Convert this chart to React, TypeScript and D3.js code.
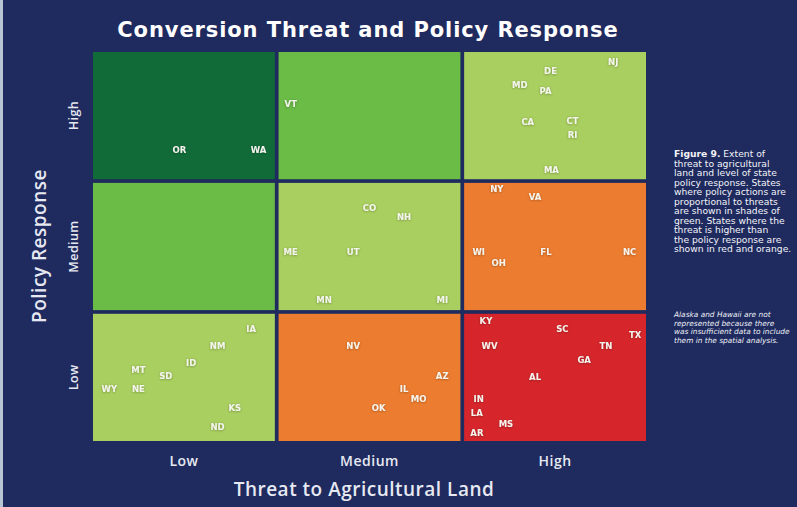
import React, { useEffect } from "react";
import * as d3 from "d3";

const threatLevels = ["Low", "Medium", "High"];
const policyLevels = ["High", "Medium", "Low"];

// which shade each threat/policy cell gets
const cellShades = [
  { threat: "Low", policy: "High", shade: "darkGreen" },
  { threat: "Medium", policy: "High", shade: "green" },
  { threat: "High", policy: "High", shade: "lightGreen" },
  { threat: "Low", policy: "Medium", shade: "green" },
  { threat: "Medium", policy: "Medium", shade: "lightGreen" },
  { threat: "High", policy: "Medium", shade: "orange" },
  { threat: "Low", policy: "Low", shade: "lightGreen" },
  { threat: "Medium", policy: "Low", shade: "orange" },
  { threat: "High", policy: "Low", shade: "red" },
];

// states, with where they sit inside their cell (0..1 across, 0..1 down)
const states = [
  { code: "OR", threat: "Low", policy: "High", fx: 0.475, fy: 0.77 },
  { code: "WA", threat: "Low", policy: "High", fx: 0.91, fy: 0.77 },
  { code: "VT", threat: "Medium", policy: "High", fx: 0.067, fy: 0.41 },
  { code: "NJ", threat: "High", policy: "High", fx: 0.82, fy: 0.08 },
  { code: "DE", threat: "High", policy: "High", fx: 0.475, fy: 0.15 },
  { code: "MD", threat: "High", policy: "High", fx: 0.306, fy: 0.26 },
  { code: "PA", threat: "High", policy: "High", fx: 0.448, fy: 0.31 },
  { code: "CA", threat: "High", policy: "High", fx: 0.35, fy: 0.55 },
  { code: "CT", threat: "High", policy: "High", fx: 0.596, fy: 0.54 },
  { code: "RI", threat: "High", policy: "High", fx: 0.596, fy: 0.65 },
  { code: "MA", threat: "High", policy: "High", fx: 0.48, fy: 0.93 },
  { code: "CO", threat: "Medium", policy: "Medium", fx: 0.5, fy: 0.2 },
  { code: "NH", threat: "Medium", policy: "Medium", fx: 0.69, fy: 0.27 },
  { code: "ME", threat: "Medium", policy: "Medium", fx: 0.067, fy: 0.54 },
  { code: "UT", threat: "Medium", policy: "Medium", fx: 0.41, fy: 0.54 },
  { code: "MN", threat: "Medium", policy: "Medium", fx: 0.25, fy: 0.92 },
  { code: "MI", threat: "Medium", policy: "Medium", fx: 0.9, fy: 0.92 },
  { code: "NY", threat: "High", policy: "Medium", fx: 0.18, fy: 0.05 },
  { code: "VA", threat: "High", policy: "Medium", fx: 0.39, fy: 0.11 },
  { code: "WI", threat: "High", policy: "Medium", fx: 0.08, fy: 0.54 },
  { code: "FL", threat: "High", policy: "Medium", fx: 0.45, fy: 0.54 },
  { code: "NC", threat: "High", policy: "Medium", fx: 0.91, fy: 0.54 },
  { code: "OH", threat: "High", policy: "Medium", fx: 0.19, fy: 0.63 },
  { code: "IA", threat: "Low", policy: "Low", fx: 0.87, fy: 0.12 },
  { code: "NM", threat: "Low", policy: "Low", fx: 0.685, fy: 0.25 },
  { code: "ID", threat: "Low", policy: "Low", fx: 0.54, fy: 0.39 },
  { code: "MT", threat: "Low", policy: "Low", fx: 0.25, fy: 0.44 },
  { code: "SD", threat: "Low", policy: "Low", fx: 0.4, fy: 0.49 },
  { code: "WY", threat: "Low", policy: "Low", fx: 0.09, fy: 0.59 },
  { code: "NE", threat: "Low", policy: "Low", fx: 0.25, fy: 0.59 },
  { code: "KS", threat: "Low", policy: "Low", fx: 0.78, fy: 0.74 },
  { code: "ND", threat: "Low", policy: "Low", fx: 0.685, fy: 0.89 },
  { code: "NV", threat: "Medium", policy: "Low", fx: 0.41, fy: 0.25 },
  { code: "AZ", threat: "Medium", policy: "Low", fx: 0.9, fy: 0.49 },
  { code: "IL", threat: "Medium", policy: "Low", fx: 0.69, fy: 0.59 },
  { code: "MO", threat: "Medium", policy: "Low", fx: 0.77, fy: 0.67 },
  { code: "OK", threat: "Medium", policy: "Low", fx: 0.55, fy: 0.74 },
  { code: "KY", threat: "High", policy: "Low", fx: 0.12, fy: 0.06 },
  { code: "SC", threat: "High", policy: "Low", fx: 0.54, fy: 0.12 },
  { code: "TX", threat: "High", policy: "Low", fx: 0.94, fy: 0.17 },
  { code: "WV", threat: "High", policy: "Low", fx: 0.14, fy: 0.25 },
  { code: "TN", threat: "High", policy: "Low", fx: 0.78, fy: 0.25 },
  { code: "GA", threat: "High", policy: "Low", fx: 0.66, fy: 0.36 },
  { code: "AL", threat: "High", policy: "Low", fx: 0.39, fy: 0.5 },
  { code: "IN", threat: "High", policy: "Low", fx: 0.08, fy: 0.67 },
  { code: "LA", threat: "High", policy: "Low", fx: 0.07, fy: 0.78 },
  { code: "MS", threat: "High", policy: "Low", fx: 0.23, fy: 0.87 },
  { code: "AR", threat: "High", policy: "Low", fx: 0.07, fy: 0.94 },
];

const captionLines = [
  "threat to agricultural",
  "land and level of state",
  "policy response. States",
  "where policy actions are",
  "proportional to threats",
  "are shown in shades of",
  "green. States where the",
  "threat is higher than",
  "the policy response are",
  "shown in red and orange.",
];

const noteLines = [
  "Alaska and Hawaii are not",
  "represented because there",
  "was insufficient data to include",
  "them in the spatial analysis.",
];

const shadeColors: Record<string, string> = {
  darkGreen: "#116b39",
  green: "#6bbb47",
  lightGreen: "#a9cf60",
  orange: "#ec7c2f",
  red: "#d6262b",
};

const width = 797;
const height = 507;
const bg = "#1f2a5e";
const font = "'Open Sans', 'DejaVu Sans', sans-serif";
const labelFont = "'DejaVu Sans', sans-serif";

const App: React.FC = () => {
  useEffect(() => {
    document.body.style.margin = "0";
  }, []);

  const x = d3.scaleBand().domain(threatLevels).range([93, 646]).paddingInner(0.02);
  const y = d3.scaleBand().domain(policyLevels).range([52, 441]).paddingInner(0.028);

  const fxScale = d3.scaleLinear().domain([0, 1]).range([0, x.bandwidth()]);
  const fyScale = d3.scaleLinear().domain([0, 1]).range([0, y.bandwidth()]);

  return (
    <svg width={width} height={height} style={{ display: "block" }}>
      <defs>
        <filter id="lblShadow" x="-30%" y="-30%" width="160%" height="160%">
          <feDropShadow dx="0" dy="0.5" stdDeviation="0.8" floodColor="#000" floodOpacity="0.35" />
        </filter>
      </defs>
      <rect x={0} y={0} width={width} height={height} fill={bg} />
      <rect x={0} y={0} width={3} height={height} fill="#b7c4d2" />

      <text
        x={368}
        y={37}
        textAnchor="middle"
        fill="#ffffff"
        fontFamily={labelFont}
        fontWeight={700}
        fontSize={21}
        letterSpacing={0.9}
      >
        Conversion Threat and Policy Response
      </text>

      {cellShades.map((c) => (
        <rect
          key={c.threat + c.policy}
          x={x(c.threat)!}
          y={y(c.policy)!}
          width={x.bandwidth()}
          height={y.bandwidth()}
          fill={shadeColors[c.shade]}
        />
      ))}

      <g filter="url(#lblShadow)">
        {states.map((s) => (
          <text
            key={s.code}
            x={x(s.threat)! + fxScale(s.fx)}
            y={y(s.policy)! + fyScale(s.fy)}
            dy="0.35em"
            textAnchor="middle"
            fill="#f4f4ee"
            fontFamily={labelFont}
            fontWeight={700}
            fontSize={8.5}
          >
            {s.code}
          </text>
        ))}
      </g>

      {threatLevels.map((t) => (
        <text
          key={t}
          x={x(t)! + x.bandwidth() / 2}
          y={461}
          dy="0.35em"
          textAnchor="middle"
          fill="#e6e9f2"
          fontFamily={font}
          fontWeight={600}
          fontSize={14}
          letterSpacing={0.5}
        >
          {t}
        </text>
      ))}
      <text
        x={364}
        y={489}
        dy="0.35em"
        textAnchor="middle"
        fill="#e6e9f2"
        fontFamily={font}
        fontWeight={600}
        fontSize={19}
        letterSpacing={0.5}
      >
        Threat to Agricultural Land
      </text>

      {policyLevels.map((p) => (
        <text
          key={p}
          transform={`translate(74,${y(p)! + y.bandwidth() / 2}) rotate(-90)`}
          dy="0.35em"
          textAnchor="middle"
          fill="#e6e9f2"
          fontFamily={font}
          fontWeight={600}
          fontSize={12.5}
          letterSpacing={0.4}
        >
          {p}
        </text>
      ))}
      <text
        transform={`translate(39,246) rotate(-90)`}
        dy="0.35em"
        textAnchor="middle"
        fill="#e6e9f2"
        fontFamily={font}
        fontWeight={600}
        fontSize={19}
        letterSpacing={0.5}
      >
        Policy Response
      </text>

      <g fontFamily={labelFont} fontSize={9.2} fill="#f2f3f8">
        <text x={674} y={157}>
          <tspan fontWeight={700}>Figure 9.</tspan> Extent of
        </text>
        {captionLines.map((l, i) => (
          <text key={l} x={674} y={157 + (i + 1) * 9.5}>
            {l}
          </text>
        ))}
      </g>

      <g fontFamily={labelFont} fontSize={7.4} fill="#eef0f6" fontStyle="italic">
        {noteLines.map((l, i) => (
          <text key={l} x={674} y={317 + i * 8.7}>
            {l}
          </text>
        ))}
      </g>
    </svg>
  );
};

export default App;
